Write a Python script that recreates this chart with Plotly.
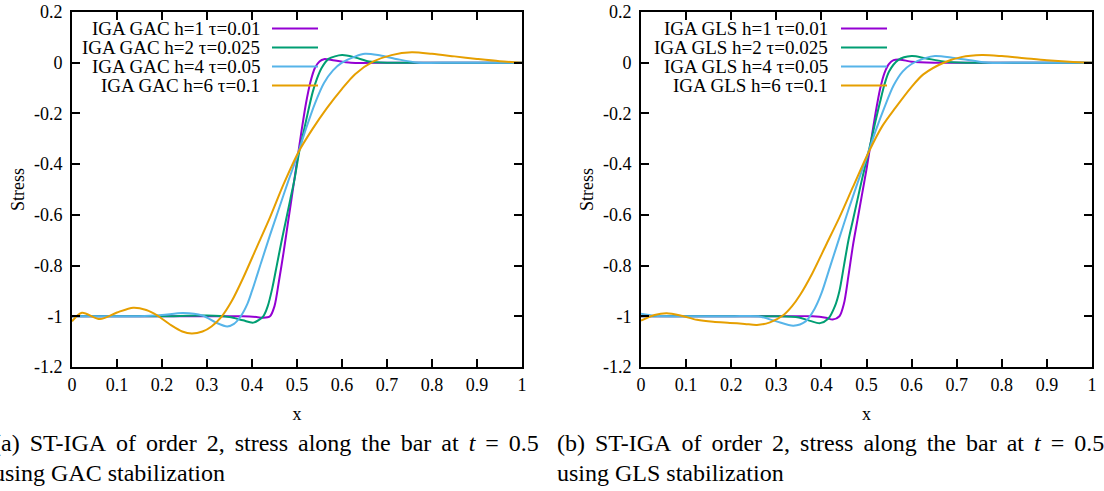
import plotly.graph_objects as go

W, H = 1104, 491

# ---------------- data ----------------
# (a) GAC stabilization
gac_h1_x = [0, 0.1, 0.2, 0.3, 0.38, 0.41, 0.425, 0.44, 0.45, 0.46, 0.47, 0.48, 0.49, 0.50, 0.51, 0.52, 0.53, 0.54, 0.55, 0.56, 0.58, 0.62, 0.7, 0.8, 0.9, 1.0]
gac_h1_y = [-1, -1, -1, -1, -1.0, -1.003, -1.006, -1.0, -0.96, -0.86, -0.75, -0.63, -0.51, -0.39, -0.27, -0.16, -0.075, -0.02, 0.005, 0.014, 0.01, 0.0, 0, 0, 0, 0]

gac_h2_x = [0, 0.1, 0.2, 0.3, 0.35, 0.38, 0.403, 0.425, 0.435, 0.445, 0.455, 0.465, 0.475, 0.485, 0.495, 0.505, 0.515, 0.525, 0.535, 0.545, 0.555, 0.57, 0.6, 0.63, 0.66, 0.7, 0.8, 1.0]
gac_h2_y = [-1, -1, -1, -0.997, -1.003, -1.016, -1.025, -1.0, -0.96, -0.89, -0.8, -0.71, -0.625, -0.54, -0.455, -0.35, -0.27, -0.19, -0.115, -0.06, -0.02, 0.015, 0.03, 0.02, 0.005, 0.0, 0, 0]

gac_h4_x = [0, 0.05, 0.1, 0.15, 0.2, 0.247, 0.29, 0.32, 0.345, 0.36, 0.375, 0.39, 0.40, 0.42, 0.44, 0.46, 0.48, 0.50, 0.52, 0.54, 0.56, 0.58, 0.60, 0.63, 0.651, 0.68, 0.72, 0.77, 0.85, 1.0]
gac_h4_y = [-1, -1, -1, -1, -0.995, -0.987, -0.997, -1.025, -1.04, -1.03, -1.0, -0.95, -0.9, -0.79, -0.68, -0.575, -0.47, -0.37, -0.26, -0.16, -0.08, -0.03, 0.0, 0.025, 0.035, 0.03, 0.015, 0.0, 0, 0]

gac_h6_x = [0, 0.022, 0.062, 0.1, 0.136, 0.165, 0.19, 0.22, 0.245, 0.266, 0.29, 0.31, 0.333, 0.355, 0.38, 0.41, 0.44, 0.47, 0.504, 0.535, 0.566, 0.6, 0.629, 0.67, 0.71, 0.755, 0.8, 0.85, 0.9, 0.95, 1.0]
gac_h6_y = [-1.02, -0.986, -1.011, -0.985, -0.966, -0.975, -0.997, -1.035, -1.06, -1.068, -1.06, -1.04, -1.0, -0.94, -0.85, -0.73, -0.61, -0.48, -0.35, -0.26, -0.18, -0.103, -0.045, 0.005, 0.03, 0.041, 0.035, 0.025, 0.015, 0.006, 0.0]

# (b) GLS stabilization
gls_h1_x = [0, 0.1, 0.2, 0.3, 0.38, 0.41, 0.425, 0.44, 0.45, 0.46, 0.47, 0.48, 0.49, 0.50, 0.51, 0.52, 0.53, 0.54, 0.55, 0.56, 0.575, 0.6, 0.65, 0.8, 1.0]
gls_h1_y = [-1, -1, -1, -1, -1, -1.006, -1.013, -1.0, -0.95, -0.84, -0.72, -0.62, -0.52, -0.42, -0.31, -0.2, -0.105, -0.04, -0.005, 0.01, 0.012, 0.004, 0, 0, 0]

gls_h2_x = [0, 0.1, 0.2, 0.3, 0.35, 0.375, 0.397, 0.415, 0.43, 0.44, 0.45, 0.46, 0.47, 0.48, 0.49, 0.50, 0.51, 0.52, 0.53, 0.54, 0.55, 0.57, 0.6, 0.63, 0.67, 0.72, 0.8, 1.0]
gls_h2_y = [-1, -1, -1, -1, -1.005, -1.018, -1.027, -1.01, -0.96, -0.9, -0.8, -0.7, -0.62, -0.54, -0.46, -0.385, -0.31, -0.23, -0.155, -0.085, -0.035, 0.01, 0.026, 0.018, 0.005, 0.0, 0, 0]

gls_h4_x = [0, 0.03, 0.1, 0.2, 0.26, 0.3, 0.338, 0.365, 0.385, 0.40, 0.42, 0.44, 0.46, 0.48, 0.50, 0.52, 0.54, 0.56, 0.58, 0.60, 0.63, 0.652, 0.69, 0.73, 0.77, 0.85, 1.0]
gls_h4_y = [-0.99, -0.998, -1, -1, -1.0, -1.02, -1.037, -1.02, -0.97, -0.91, -0.8, -0.69, -0.58, -0.475, -0.375, -0.27, -0.175, -0.09, -0.035, -0.005, 0.018, 0.026, 0.02, 0.01, 0.0, 0, 0]

gls_h6_x = [0, 0.03, 0.057, 0.09, 0.124, 0.16, 0.197, 0.23, 0.257, 0.286, 0.316, 0.335, 0.353, 0.38, 0.41, 0.44, 0.47, 0.506, 0.535, 0.564, 0.6, 0.626, 0.671, 0.71, 0.756, 0.8, 0.85, 0.9, 0.95, 1.0]
gls_h6_y = [-1.017, -0.995, -0.988, -0.998, -1.014, -1.022, -1.026, -1.03, -1.034, -1.024, -0.995, -0.96, -0.915, -0.83, -0.72, -0.61, -0.49, -0.348, -0.25, -0.178, -0.095, -0.046, 0.0, 0.022, 0.03, 0.026, 0.018, 0.01, 0.004, 0.0]

gac_labels = ["IGA GAC h=1 τ=0.01", "IGA GAC h=2 τ=0.025", "IGA GAC h=4 τ=0.05", "IGA GAC h=6 τ=0.1"]
gls_labels = ["IGA GLS h=1 τ=0.01", "IGA GLS h=2 τ=0.025", "IGA GLS h=4 τ=0.05", "IGA GLS h=6 τ=0.1"]
colors = ["#9400d3", "#009e73", "#56b4e9", "#e69f00"]

x_tickvals = [0, 0.1, 0.2, 0.3, 0.4, 0.5, 0.6, 0.7, 0.8, 0.9, 1]
x_ticktext = ["0", "0.1", "0.2", "0.3", "0.4", "0.5", "0.6", "0.7", "0.8", "0.9", "1"]
y_tickvals = [0.2, 0, -0.2, -0.4, -0.6, -0.8, -1, -1.2]
y_ticktext = ["0.2", "0", "-0.2", "-0.4", "-0.6", "-0.8", "-1", "-1.2"]

x_title = "x"
y_title = "Stress"
caption_a = ["(a) ST-IGA of order 2, stress along the bar at <i>t</i> = 0.5", "using GAC stabilization"]
caption_b = ["(b) ST-IGA of order 2, stress along the bar at <i>t</i> = 0.5", "using GLS stabilization"]

# ---------------- figure ----------------
def px(v):
    return v / W

def py(v):
    return 1 - v / H

FONT = "'Liberation Serif', 'Times New Roman', Times, serif"

fig = go.Figure()
series_a = [(gac_h1_x, gac_h1_y), (gac_h2_x, gac_h2_y), (gac_h4_x, gac_h4_y), (gac_h6_x, gac_h6_y)]
series_b = [(gls_h1_x, gls_h1_y), (gls_h2_x, gls_h2_y), (gls_h4_x, gls_h4_y), (gls_h6_x, gls_h6_y)]
for (xs, ys), lab, c in zip(series_a, gac_labels, colors):
    fig.add_trace(go.Scatter(x=xs, y=ys, mode="lines", name=lab, xaxis="x", yaxis="y",
                             line=dict(color=c, width=2, shape="spline", smoothing=0.8), showlegend=False))
for (xs, ys), lab, c in zip(series_b, gls_labels, colors):
    fig.add_trace(go.Scatter(x=xs, y=ys, mode="lines", name=lab, xaxis="x2", yaxis="y2",
                             line=dict(color=c, width=2, shape="spline", smoothing=0.8), showlegend=False))

axis_common = dict(showline=True, linecolor="black", linewidth=2, mirror="ticks", ticks="inside",
                   ticklen=8, tickwidth=1.5, tickcolor="black", showgrid=False, zeroline=False,
                   automargin=False,
                   tickfont=dict(family=FONT, size=18, color="black"))

xa = dict(range=[0, 1], tickmode="array", tickvals=x_tickvals, ticktext=x_ticktext,
          title=dict(text=x_title, font=dict(family=FONT, size=18, color="black"), standoff=14), **axis_common)
ya = dict(range=[-1.2, 0.2], tickmode="array", tickvals=y_tickvals, ticktext=y_ticktext,
          ticklabelstandoff=4, **axis_common)

ydom = [py(367), py(12)]
fig.update_layout(
    width=W, height=H, margin=dict(l=0, r=0, t=0, b=0, autoexpand=False),
    paper_bgcolor="white", plot_bgcolor="white",
    font=dict(family=FONT, color="black"),
    xaxis=dict(domain=[px(72), px(522)], anchor="y", **xa),
    yaxis=dict(domain=ydom, anchor="x", **ya),
    xaxis2=dict(domain=[px(641), px(1092)], anchor="y2", **xa),
    yaxis2=dict(domain=ydom, anchor="x2", **ya),
)

annotations = []
shapes = []

# y-axis titles (rotated)
for xc in [18, 587]:
    annotations.append(dict(text=y_title, x=px(xc), y=py(190), xref="paper", yref="paper",
                            xanchor="center", yanchor="middle", textangle=-90, showarrow=False,
                            font=dict(family=FONT, size=18, color="black")))

# gnuplot-style keys: right-aligned text with the sample line to its right
rows_y = [28.5, 47.5, 66.5, 85.5]
for labels, text_end, l0, l1 in [(gac_labels, 262, 272, 318), (gls_labels, 830, 841, 887)]:
    for lab, c, yy in zip(labels, colors, rows_y):
        annotations.append(dict(text=lab, x=px(text_end), y=py(yy), xref="paper", yref="paper",
                                xanchor="right", yanchor="middle", showarrow=False,
                                font=dict(family=FONT, size=19, color="black")))
        shapes.append(dict(type="line", xref="paper", yref="paper", x0=px(l0), x1=px(l1),
                           y0=py(yy), y1=py(yy), line=dict(color=c, width=2)))

JUSTIFY_GAP = "\u00a0\u2006"  # widened word gap, mimicking the justified first caption line
for cap, x0 in [(caption_a, -9), (caption_b, 555)]:
    for i, (line, yy) in enumerate(zip(cap, [443, 473])):
        txt = line.replace(" ", JUSTIFY_GAP) if i == 0 else line
        annotations.append(dict(text=txt, x=px(x0), y=py(yy), xref="paper", yref="paper",
                                xanchor="left", yanchor="middle", showarrow=False,
                                font=dict(family=FONT, size=24, color="black")))

fig.update_layout(annotations=annotations, shapes=shapes)
fig.write_html("out.html")
